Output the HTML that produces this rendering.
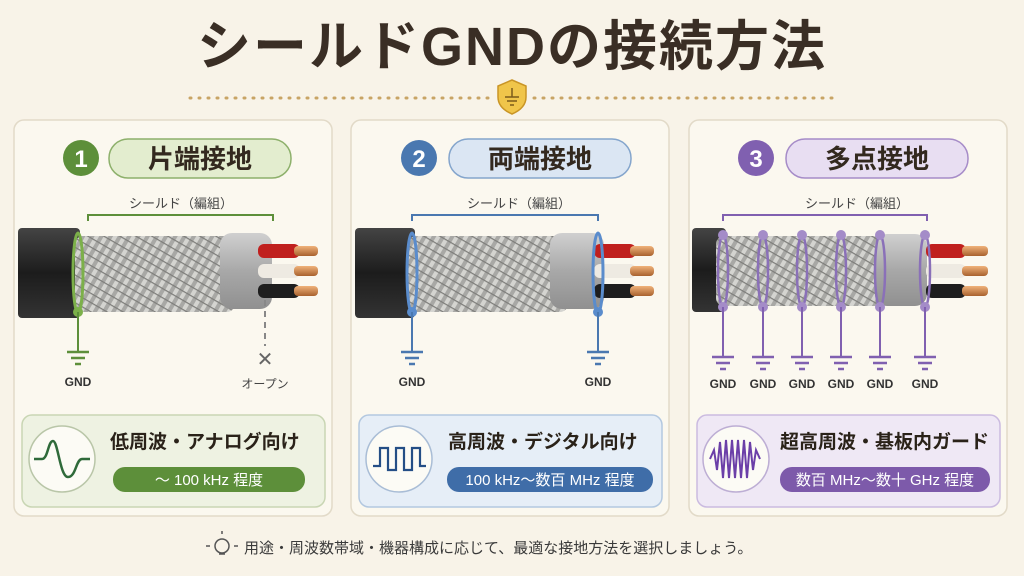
<!DOCTYPE html>
<html><head><meta charset="utf-8"><style>
html,body{margin:0;padding:0;background:#f8f3e8;}
svg{display:block;font-family:"Liberation Sans","Noto Sans CJK JP",sans-serif;}
</style></head><body>
<svg width="1024" height="576" viewBox="0 0 1024 576" xmlns="http://www.w3.org/2000/svg">
<defs>
<pattern id="braid" width="8" height="8" patternUnits="userSpaceOnUse" patternTransform="rotate(30)">
<rect width="8" height="8" fill="#a8a8a5"/>
<rect width="4" height="8" fill="#d4d4d0"/>
<rect y="0" width="8" height="1.2" fill="#7d7d7a"/>
</pattern>
<linearGradient id="jk" x1="0" y1="0" x2="0" y2="1"><stop offset="0" stop-color="#444"/><stop offset=".5" stop-color="#1c1c1c"/><stop offset="1" stop-color="#333"/></linearGradient>
<linearGradient id="in" x1="0" y1="0" x2="0" y2="1"><stop offset="0" stop-color="#d0d0d0"/><stop offset=".5" stop-color="#a8a8a8"/><stop offset="1" stop-color="#909090"/></linearGradient>
<linearGradient id="cu" x1="0" y1="0" x2="0" y2="1"><stop offset="0" stop-color="#f0b27a"/><stop offset="1" stop-color="#a8622e"/></linearGradient>
<g id="gnd"><line x1="-11" y1="0" x2="11" y2="0" stroke-width="2.5"/><line x1="-7" y1="6" x2="7" y2="6" stroke-width="2.5"/><line x1="-3" y1="12" x2="3" y2="12" stroke-width="2.5"/></g>
</defs>
<rect width="1024" height="576" fill="#f8f3e8"/>
<text x="512" y="65" text-anchor="middle" font-size="54" font-weight="bold" fill="#3a2e25" letter-spacing="2">シールドGNDの接続方法</text>
<line x1="190" y1="98" x2="490" y2="98" stroke="#c8a465" stroke-width="3" stroke-dasharray="1 8" stroke-linecap="round"/>
<line x1="534" y1="98" x2="834" y2="98" stroke="#c8a465" stroke-width="3" stroke-dasharray="1 8" stroke-linecap="round"/>
<path d="M512 80 L526 86 L526 97 Q526 108 512 114 Q498 108 498 97 L498 86 Z" fill="#f0c54a" stroke="#c99526" stroke-width="1.5"/>
<g stroke="#7a5a1a" stroke-width="1.5"><line x1="512" y1="88" x2="512" y2="97"/><line x1="505" y1="97" x2="519" y2="97"/><line x1="507" y1="101" x2="517" y2="101"/><line x1="510" y1="105" x2="514" y2="105"/></g>

<g stroke="#e2dac8" stroke-width="1.5" fill="#fbf8ef">
<rect x="14" y="120" width="318" height="396" rx="10"/>
<rect x="351" y="120" width="318" height="396" rx="10"/>
<rect x="689" y="120" width="318" height="396" rx="10"/>
</g>

<circle cx="81" cy="158" r="18" fill="#5d8f3a"/><text x="81" y="167" text-anchor="middle" font-size="24" font-weight="bold" fill="#fff">1</text>
<rect x="109" y="139" width="182" height="39" rx="19" fill="#e3edcf" stroke="#8db06b" stroke-width="1.5"/>
<text x="200" y="168" text-anchor="middle" font-size="26" font-weight="bold" fill="#33291f">片端接地</text>
<circle cx="419" cy="158" r="18" fill="#4a78b0"/><text x="419" y="167" text-anchor="middle" font-size="24" font-weight="bold" fill="#fff">2</text>
<rect x="449" y="139" width="182" height="39" rx="19" fill="#dbe6f3" stroke="#84a5cc" stroke-width="1.5"/>
<text x="540" y="168" text-anchor="middle" font-size="26" font-weight="bold" fill="#33291f">両端接地</text>
<circle cx="756" cy="158" r="18" fill="#8060b0"/><text x="756" y="167" text-anchor="middle" font-size="24" font-weight="bold" fill="#fff">3</text>
<rect x="786" y="139" width="182" height="39" rx="19" fill="#e8def2" stroke="#a68cc8" stroke-width="1.5"/>
<text x="877" y="168" text-anchor="middle" font-size="26" font-weight="bold" fill="#33291f">多点接地</text>

<g font-size="13" text-anchor="middle" fill="#444">
<text x="181" y="208">シールド（編組）</text><text x="519" y="208">シールド（編組）</text><text x="857" y="208">シールド（編組）</text>
</g>
<path d="M88 221 V215 H273 V221" fill="none" stroke="#5d8f3a" stroke-width="2"/>
<path d="M412 221 V215 H598 V221" fill="none" stroke="#4a78b0" stroke-width="2"/>
<path d="M723 221 V215 H927 V221" fill="none" stroke="#8060b0" stroke-width="2"/>

<g>
<rect x="18" y="228" width="62" height="90" rx="4" fill="url(#jk)"/>
<rect x="75" y="236" width="160" height="76" rx="8" fill="url(#braid)"/>
<rect x="220" y="233" width="52" height="76" rx="12" fill="url(#in)"/>
<rect x="258" y="244" width="42" height="14" rx="6" fill="#c0201e"/>
<rect x="258" y="264" width="42" height="14" rx="6" fill="#eeeae2"/>
<rect x="258" y="284" width="42" height="14" rx="6" fill="#1e1e1e"/>
<rect x="294" y="246" width="24" height="10" rx="4" fill="url(#cu)"/>
<rect x="294" y="266" width="24" height="10" rx="4" fill="url(#cu)"/>
<rect x="294" y="286" width="24" height="10" rx="4" fill="url(#cu)"/>
<ellipse cx="78" cy="273" rx="5" ry="40" fill="none" stroke="#7cb04a" stroke-width="3"/>
<circle cx="78" cy="312" r="5" fill="#7cb04a"/>
<line x1="78" y1="312" x2="78" y2="352" stroke="#5d8f3a" stroke-width="2"/>
<use href="#gnd" x="78" y="352" stroke="#5d8f3a"/>
<text x="78" y="386" text-anchor="middle" font-size="12" font-weight="bold" fill="#333">GND</text>
<line x1="265" y1="300" x2="265" y2="346" stroke="#888" stroke-width="2" stroke-dasharray="6 5"/>
<text x="265" y="366" text-anchor="middle" font-size="20" fill="#666">✕</text>
<text x="265" y="388" text-anchor="middle" font-size="12" fill="#444">オープン</text>
</g>
<g>
<rect x="355" y="228" width="60" height="90" rx="4" fill="url(#jk)"/>
<rect x="408" y="236" width="160" height="76" rx="8" fill="url(#braid)"/>
<rect x="550" y="233" width="54" height="76" rx="12" fill="url(#in)"/>
<rect x="594" y="244" width="42" height="14" rx="6" fill="#c0201e"/>
<rect x="594" y="264" width="42" height="14" rx="6" fill="#eeeae2"/>
<rect x="594" y="284" width="42" height="14" rx="6" fill="#1e1e1e"/>
<rect x="630" y="246" width="24" height="10" rx="4" fill="url(#cu)"/>
<rect x="630" y="266" width="24" height="10" rx="4" fill="url(#cu)"/>
<rect x="630" y="286" width="24" height="10" rx="4" fill="url(#cu)"/>
<ellipse cx="412" cy="273" rx="5" ry="40" fill="none" stroke="#5a8ccc" stroke-width="3"/>
<ellipse cx="598" cy="273" rx="5" ry="40" fill="none" stroke="#5a8ccc" stroke-width="3"/>
<circle cx="412" cy="312" r="5" fill="#5a8ccc"/><circle cx="598" cy="312" r="5" fill="#5a8ccc"/>
<g stroke="#4a78b0"><line x1="412" y1="312" x2="412" y2="352" stroke-width="2"/><line x1="598" y1="312" x2="598" y2="352" stroke-width="2"/>
<use href="#gnd" x="412" y="352"/><use href="#gnd" x="598" y="352"/></g>
<text x="412" y="386" text-anchor="middle" font-size="12" font-weight="bold" fill="#333">GND</text>
<text x="598" y="386" text-anchor="middle" font-size="12" font-weight="bold" fill="#333">GND</text>
</g>
<g>
<rect x="692" y="228" width="34" height="84" rx="4" fill="url(#jk)"/>
<rect x="716" y="236" width="166" height="70" rx="8" fill="url(#braid)"/>
<rect x="875" y="234" width="52" height="72" rx="12" fill="url(#in)"/>
<rect x="926" y="244" width="40" height="14" rx="6" fill="#c0201e"/>
<rect x="926" y="264" width="40" height="14" rx="6" fill="#eeeae2"/>
<rect x="926" y="284" width="40" height="14" rx="6" fill="#1e1e1e"/>
<rect x="962" y="246" width="26" height="10" rx="4" fill="url(#cu)"/>
<rect x="962" y="266" width="26" height="10" rx="4" fill="url(#cu)"/>
<rect x="962" y="286" width="26" height="10" rx="4" fill="url(#cu)"/>
<g fill="none" stroke="#8a70b8" stroke-width="2.5">
<ellipse cx="723" cy="271" rx="5" ry="36"/><ellipse cx="763" cy="271" rx="5" ry="36"/><ellipse cx="802" cy="271" rx="5" ry="36"/><ellipse cx="841" cy="271" rx="5" ry="36"/><ellipse cx="880" cy="271" rx="5" ry="36"/><ellipse cx="925" cy="271" rx="5" ry="36"/></g>
<g fill="#a48cc8"><circle cx="723" cy="235" r="5"/><circle cx="763" cy="235" r="5"/><circle cx="802" cy="235" r="5"/><circle cx="841" cy="235" r="5"/><circle cx="880" cy="235" r="5"/><circle cx="925" cy="235" r="5"/>
<circle cx="723" cy="307" r="5"/><circle cx="763" cy="307" r="5"/><circle cx="802" cy="307" r="5"/><circle cx="841" cy="307" r="5"/><circle cx="880" cy="307" r="5"/><circle cx="925" cy="307" r="5"/></g>
<g stroke="#8060b0" stroke-width="2">
<line x1="723" y1="307" x2="723" y2="357"/><line x1="763" y1="307" x2="763" y2="357"/><line x1="802" y1="307" x2="802" y2="357"/><line x1="841" y1="307" x2="841" y2="357"/><line x1="880" y1="307" x2="880" y2="357"/><line x1="925" y1="307" x2="925" y2="357"/>
<use href="#gnd" x="723" y="357"/><use href="#gnd" x="763" y="357"/><use href="#gnd" x="802" y="357"/><use href="#gnd" x="841" y="357"/><use href="#gnd" x="880" y="357"/><use href="#gnd" x="925" y="357"/></g>
<g font-size="12" font-weight="bold" fill="#333" text-anchor="middle">
<text x="723" y="388">GND</text><text x="763" y="388">GND</text><text x="802" y="388">GND</text><text x="841" y="388">GND</text><text x="880" y="388">GND</text><text x="925" y="388">GND</text></g>
</g>

<rect x="22" y="415" width="303" height="92" rx="10" fill="#eef2e2" stroke="#c9d6b4" stroke-width="1.5"/>
<circle cx="62" cy="459" r="33" fill="#fcfbf5" stroke="#b9c6a8" stroke-width="1.5"/>
<path d="M34 459 H42 C48 459 48 441 53 441 C58 441 60 477 68 477 C76 477 76 459 82 459 H90" fill="none" stroke="#2f6a3a" stroke-width="2.5"/>
<text x="110" y="448" font-size="19" font-weight="bold" fill="#2a2219">低周波・アナログ向け</text>
<rect x="113" y="467" width="192" height="25" rx="12" fill="#5d8f3a"/>
<text x="209" y="485" text-anchor="middle" font-size="15" fill="#fff">～ 100 kHz 程度</text>

<rect x="359" y="415" width="303" height="92" rx="10" fill="#e6eef7" stroke="#b3c8e0" stroke-width="1.5"/>
<circle cx="399" cy="459" r="33" fill="#fcfbf5" stroke="#a9bdd6" stroke-width="1.5"/>
<path d="M373 466 H380 V448 H388 V470 H396 V448 H404 V470 H412 V448 H420 V466 H426" fill="none" stroke="#244e86" stroke-width="2.2"/>
<text x="448" y="448" font-size="19" font-weight="bold" fill="#2a2219">高周波・デジタル向け</text>
<rect x="447" y="467" width="206" height="25" rx="12" fill="#3f6da8"/>
<text x="550" y="485" text-anchor="middle" font-size="15" fill="#fff">100 kHz～数百 MHz 程度</text>

<rect x="697" y="415" width="303" height="92" rx="10" fill="#efe8f5" stroke="#cbbbe0" stroke-width="1.5"/>
<circle cx="736" cy="459" r="33" fill="#fcfbf5" stroke="#bdaed4" stroke-width="1.5"/>
<path d="M710 459 L714 450 L717 470 L720 442 L723 478 L726 440 L729 478 L732 440 L735 478 L738 440 L741 478 L744 440 L747 478 L750 442 L753 470 L756 450 L760 459" fill="none" stroke="#6b3fa8" stroke-width="2"/>
<text x="780" y="448" font-size="19" font-weight="bold" fill="#2a2219">超高周波・基板内ガード</text>
<rect x="780" y="467" width="210" height="25" rx="12" fill="#7d5aaa"/>
<text x="885" y="485" text-anchor="middle" font-size="15" fill="#fff">数百 MHz～数十 GHz 程度</text>

<g stroke="#555" stroke-width="1.5" fill="none"><circle cx="222" cy="546" r="7"/><line x1="219" y1="554" x2="225" y2="554"/><line x1="210" y1="546" x2="206" y2="546"/><line x1="234" y1="546" x2="238" y2="546"/><line x1="222" y1="534" x2="222" y2="531"/></g>
<text x="244" y="553" font-size="15" fill="#3a3a3a">用途・周波数帯域・機器構成に応じて、最適な接地方法を選択しましょう。</text>
</svg>
</body></html>
